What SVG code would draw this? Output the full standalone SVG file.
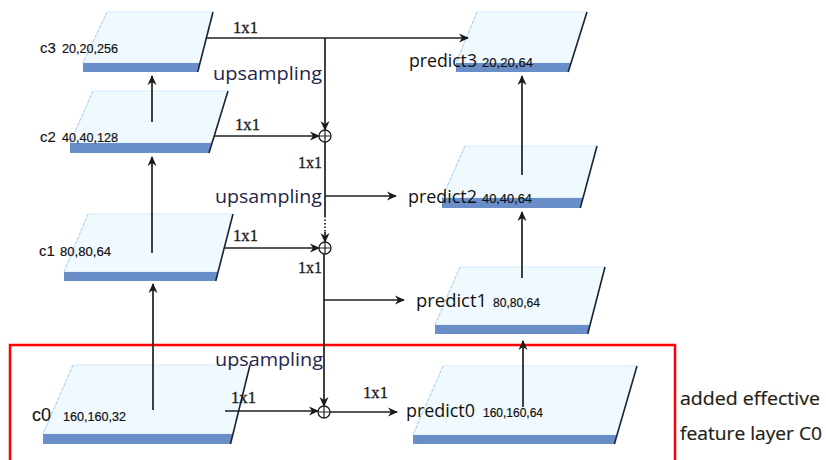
<svg xmlns="http://www.w3.org/2000/svg" width="826" height="460" viewBox="0 0 826 460">
  <defs>
    <marker id="arr" viewBox="0 0 10 10" refX="9" refY="5" markerWidth="10" markerHeight="10" markerUnits="userSpaceOnUse" orient="auto">
      <path d="M0,0.5 L10,5 L0,9.5 L3,5 z" fill="#1a1a1a"/>
    </marker>
    <style>
      .face { fill: #f0f9fe; stroke: #d6ebfa; stroke-width: 1; }
      .band { fill: #6a8fc8; }
      .ledge { stroke: #a9cdf0; stroke-width: 1; stroke-dasharray: 3 2; fill: none; }
      .redge { stroke: #1c2433; stroke-width: 1.6; fill: none; }
      .conn line, .conn path { stroke: #1f1f1f; stroke-width: 1.7; fill: none; }
      .arrow { marker-end: url(#arr); }
      .sum { fill: #ffffff; stroke: #1f1f1f; stroke-width: 1.3; }
      .lbl { font-family: "Liberation Sans", Arial, sans-serif; fill: #111; stroke: #111; stroke-width: 0.1; }
      .dim { font-family: "Liberation Sans", Arial, sans-serif; font-size: 12px; fill: #111; stroke: #111; stroke-width: 0.2; }
      .conv { font-family: "Liberation Serif", "Times New Roman", serif; font-size: 16px; fill: #1a1a1a; stroke: #1a1a1a; stroke-width: 0.3; }
      .up { font-family: "Open Sans", "Noto Sans", sans-serif; font-size: 18px; fill: #25254d; }
      .pred { font-family: "Open Sans", "Noto Sans", sans-serif; font-size: 18px; fill: #111; }
      .note { font-family: "Open Sans", "Noto Sans", sans-serif; font-size: 18px; fill: #221c14; stroke: #221c14; stroke-width: 0.2; }
    </style>
  </defs>

  <!-- highlight frame around the added C0 level (open at the bottom edge) -->
  <path id="c0-box" d="M10,460 V345 H675 V460" fill="none" stroke="#ff0000" stroke-width="2.5"/>

  <!-- backbone feature layers -->
  <g id="c3">
    <polygon class="face" points="107,12 213,12 200,63 83,63"/>
    <polygon class="band" points="83,63 200,63 197.7,72 83,72"/>
    <line class="ledge" x1="107" y1="12" x2="83" y2="63"/>
    <line class="redge" x1="213" y1="12" x2="197.7" y2="72"/>
    <text class="lbl" x="40" y="53" font-size="15">c3</text>
    <text class="dim" x="62" y="53" textLength="56" lengthAdjust="spacingAndGlyphs">20,20,256</text>
  </g>
  <g id="c2">
    <polygon class="face" points="93,91 228,91 212,143 70,143"/>
    <polygon class="band" points="70,143 212,143 209,153 70,153"/>
    <line class="ledge" x1="93" y1="91" x2="70" y2="143"/>
    <line class="redge" x1="228" y1="91" x2="209" y2="153"/>
    <text class="lbl" x="40" y="142" font-size="15">c2</text>
    <text class="dim" x="62" y="142" textLength="56" lengthAdjust="spacingAndGlyphs">40,40,128</text>
  </g>
  <g id="c1">
    <polygon class="face" points="88,214 233,214 218,272 64,272"/>
    <polygon class="band" points="64,272 218,272 215.7,281 64,281"/>
    <line class="ledge" x1="88" y1="214" x2="64" y2="272"/>
    <line class="redge" x1="233" y1="214" x2="215.7" y2="281"/>
    <text class="lbl" x="39" y="256" font-size="15">c1</text>
    <text class="dim" x="60" y="256" textLength="51" lengthAdjust="spacingAndGlyphs">80,80,64</text>
  </g>
  <g id="c0">
    <polygon class="face" points="73,365 250,365 233,434 43,434"/>
    <polygon class="band" points="43,434 233,434 230.5,444 43,444"/>
    <line class="ledge" x1="73" y1="365" x2="43" y2="434"/>
    <line class="redge" x1="250" y1="365" x2="230.5" y2="444"/>
    <text class="lbl" x="32" y="421" font-size="18">c0</text>
    <text class="dim" x="63" y="421" textLength="63" lengthAdjust="spacingAndGlyphs">160,160,32</text>
  </g>

  <!-- prediction layers -->
  <g id="predict3">
    <polygon class="face" points="477,12 587,12 571,63 456,63"/>
    <polygon class="band" points="456,63 571,63 568.2,72 456,72"/>
    <line class="ledge" x1="477" y1="12" x2="456" y2="63"/>
    <line class="redge" x1="587" y1="12" x2="568.2" y2="72"/>
    <text class="pred" x="409" y="67" textLength="68" lengthAdjust="spacingAndGlyphs">predict3</text>
    <text class="dim" x="482" y="67" textLength="51" lengthAdjust="spacingAndGlyphs">20,20,64</text>
  </g>
  <g id="predict2">
    <polygon class="face" points="465,146 597,146 583,198 442,198"/>
    <polygon class="band" points="442,198 583,198 580.3,208 442,208"/>
    <line class="ledge" x1="465" y1="146" x2="442" y2="198"/>
    <line class="redge" x1="597" y1="146" x2="580.3" y2="208"/>
    <text class="pred" x="408" y="203" textLength="69" lengthAdjust="spacingAndGlyphs">predict2</text>
    <text class="dim" x="482" y="203" textLength="50" lengthAdjust="spacingAndGlyphs">40,40,64</text>
  </g>
  <g id="predict1">
    <polygon class="face" points="460,267 605,267 590,325 435,325"/>
    <polygon class="band" points="435,325 590,325 587.7,334 435,334"/>
    <line class="ledge" x1="460" y1="267" x2="435" y2="325"/>
    <line class="redge" x1="605" y1="267" x2="587.7" y2="334"/>
    <text class="pred" x="416" y="307" textLength="71" lengthAdjust="spacingAndGlyphs">predict1</text>
    <text class="dim" x="493" y="307" textLength="47" lengthAdjust="spacingAndGlyphs">80,80,64</text>
  </g>
  <g id="predict0">
    <polygon class="face" points="443,366 637,366 617,435 413,435"/>
    <polygon class="band" points="413,435 617,435 614.4,444 413,444"/>
    <line class="ledge" x1="443" y1="366" x2="413" y2="435"/>
    <line class="redge" x1="637" y1="366" x2="614.4" y2="444"/>
    <text class="pred" x="406" y="417" textLength="69" lengthAdjust="spacingAndGlyphs">predict0</text>
    <text class="dim" x="483" y="417" textLength="60" lengthAdjust="spacingAndGlyphs">160,160,64</text>
  </g>

  <!-- connectors: lateral 1x1, top-down path, bottom-up paths -->
  <g id="connectors" class="conn">
    <line class="arrow" x1="207" y1="38" x2="468" y2="38"/>
    <line class="arrow" x1="325" y1="38" x2="325" y2="130"/>
    <line class="arrow" x1="214" y1="136" x2="319" y2="136"/>
    <line x1="325" y1="142" x2="325" y2="216"/>
    <line x1="325" y1="216" x2="325" y2="232" stroke-dasharray="1.5 2"/>
    <line class="arrow" x1="325" y1="232" x2="325" y2="242"/>
    <line class="arrow" x1="325" y1="196" x2="396" y2="196"/>
    <line class="arrow" x1="225" y1="248" x2="319" y2="248"/>
    <line class="arrow" x1="324" y1="254" x2="324" y2="406"/>
    <line class="arrow" x1="324" y1="300" x2="404" y2="300"/>
    <line class="arrow" x1="225" y1="411" x2="318" y2="411"/>
    <line class="arrow" x1="330" y1="412" x2="397" y2="412"/>

    <line class="arrow" x1="153" y1="410" x2="153" y2="284"/>
    <line class="arrow" x1="152" y1="253" x2="152" y2="157"/>
    <line class="arrow" x1="152" y1="122" x2="152" y2="76"/>
    <line class="arrow" x1="523" y1="407" x2="523" y2="341"/>
    <line class="arrow" x1="522" y1="278" x2="522" y2="212"/>
    <line class="arrow" x1="522" y1="175" x2="522" y2="76"/>

    <g id="sum2">
      <circle class="sum" cx="325" cy="136" r="6"/>
      <path d="M319,136 H331 M325,130 V142" style="stroke-width:1.2"/>
    </g>
    <g id="sum1">
      <circle class="sum" cx="325" cy="248" r="6"/>
      <path d="M319,248 H331 M325,242 V254" style="stroke-width:1.2"/>
    </g>
    <g id="sum0">
      <circle class="sum" cx="324" cy="412" r="6"/>
      <path d="M318,412 H330 M324,406 V418" style="stroke-width:1.2"/>
    </g>

    <text class="conv" x="233" y="33" textLength="25" lengthAdjust="spacingAndGlyphs">1x1</text>
    <text class="conv" x="235" y="130" textLength="25" lengthAdjust="spacingAndGlyphs">1x1</text>
    <text class="conv" x="298" y="168" textLength="24" lengthAdjust="spacingAndGlyphs">1x1</text>
    <text class="conv" x="233" y="241" textLength="25" lengthAdjust="spacingAndGlyphs">1x1</text>
    <text class="conv" x="298" y="273" textLength="24" lengthAdjust="spacingAndGlyphs">1x1</text>
    <text class="conv" x="231" y="403" textLength="25" lengthAdjust="spacingAndGlyphs">1x1</text>
    <text class="conv" x="363" y="398" textLength="25" lengthAdjust="spacingAndGlyphs">1x1</text>

    <text class="up" x="213" y="80" textLength="109" lengthAdjust="spacingAndGlyphs">upsampling</text>
    <text class="up" x="215" y="203" textLength="107" lengthAdjust="spacingAndGlyphs">upsampling</text>
    <text class="up" x="215" y="366" textLength="108" lengthAdjust="spacingAndGlyphs">upsampling</text>
  </g>

  <g id="note">
    <text class="note" x="680" y="405" textLength="140" lengthAdjust="spacingAndGlyphs">added effective</text>
    <text class="note" x="680" y="440" textLength="142" lengthAdjust="spacingAndGlyphs">feature layer C0</text>
  </g>
</svg>
